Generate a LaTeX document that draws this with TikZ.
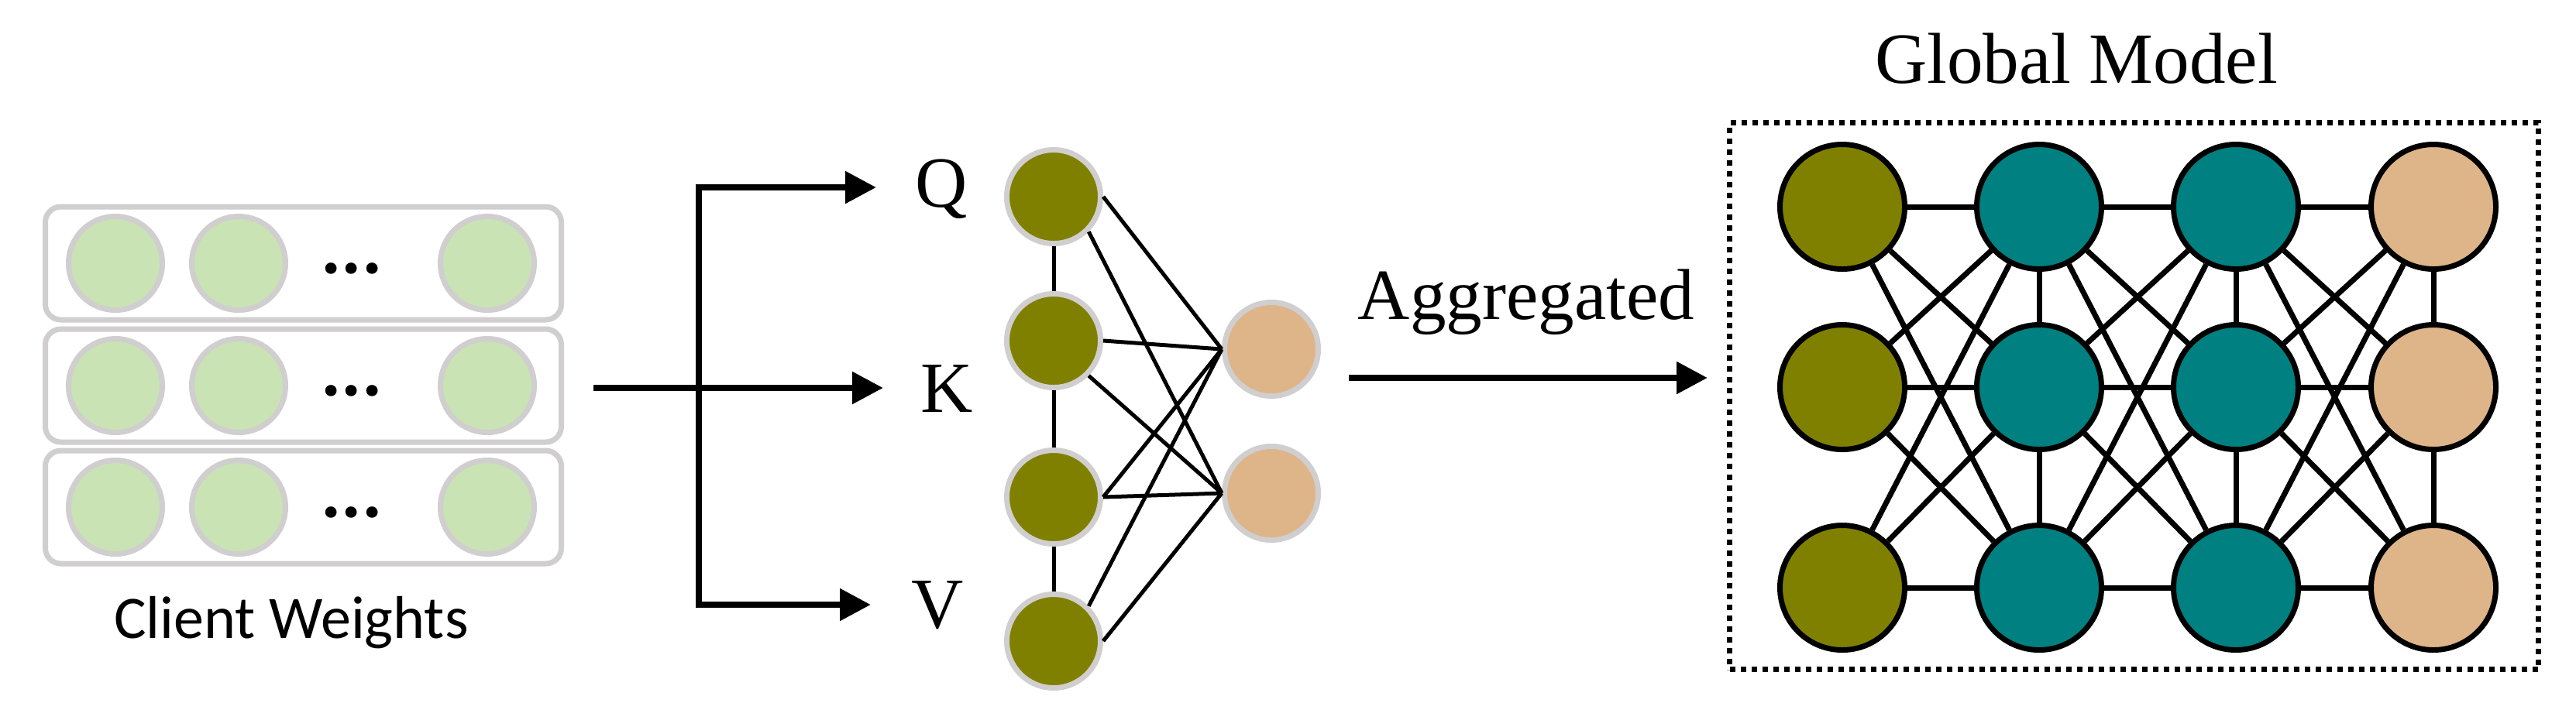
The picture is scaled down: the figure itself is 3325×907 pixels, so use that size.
\documentclass[tikz,border=0pt]{standalone}
\usepackage{fontspec}
\setmainfont{Liberation Serif}
\newfontfamily\clientfont{Carlito}
\usepackage{tikz}
\usetikzlibrary{arrows.meta}

\definecolor{weightgreen}{RGB}{201,227,181}
\definecolor{weightgray}{RGB}{208,206,206}
\definecolor{qkvolive}{RGB}{128,128,0}
\definecolor{hidteal}{RGB}{0,128,128}
\definecolor{outtan}{RGB}{222,180,137}

\begin{document}
\begin{tikzpicture}[x=0.1mm,y=-0.1mm,
  >={Triangle[length=4mm,width=4mm]},
  rowbox/.style={draw=weightgray,line width=0.7mm,rounded corners=2mm,
    minimum width=66.6mm,minimum height=14.6mm,inner sep=0pt},
  weight/.style={circle,draw=weightgray,fill=weightgreen,line width=0.7mm,
    minimum size=12.1mm,inner sep=0pt},
  qkvnode/.style={weight,fill=qkvolive},
  outnode/.style={weight,fill=outtan},
  gnode/.style={circle,draw=black,line width=0.7mm,minimum size=16.1mm,inner sep=0pt},
  flow/.style={line width=0.85mm},
  qkvline/.style={line width=0.5mm},
  netline/.style={line width=0.7mm},
  bigtext/.style={font=\fontsize{26.5}{30}\selectfont,anchor=base,inner sep=0pt},
  dotbox/.style={draw,line width=0.7mm,dash pattern=on 0.7mm off 0.7mm,
    minimum width=104.4mm,minimum height=70.6mm,inner sep=0pt}]
  \useasboundingbox (0,0) rectangle (3325,907);

  \foreach \r/\y in {1/340,2/498,3/655} {
    \node[rowbox] (row\r) at (391.5,\y) {};
    \node[weight] (w\r a) at (149,\y) {};
    \node[weight] (w\r b) at (308,\y) {};
    \node[weight] (w\r c) at (629,\y) {};
    \node[font=\clientfont\bfseries\fontsize{28}{30}\selectfont,anchor=base,inner sep=0pt]
      (dots\r) at (454,\y+13) {...};
  }
  \node[font=\clientfont\fontsize{22.2}{26}\selectfont,anchor=base,inner sep=0pt]
    (clientlbl) at (376,824) {Client Weights};

  \coordinate (split) at (766,501);
  \coordinate (fork) at (902,501);
  \coordinate (qtip) at (1131,242);
  \coordinate (ktip) at (1140,501);
  \coordinate (vtip) at (1124,781);
  \draw[flow,->] (split) -- (ktip);
  \draw[flow,->] (fork) |- (qtip);
  \draw[flow,->] (fork) |- (vtip);
  \node[bigtext] (qlbl) at (1215,267) {Q};
  \node[bigtext] (klbl) at (1222,532) {K};
  \node[bigtext] (vlbl) at (1210,811) {V};

  \node[qkvnode] (a1) at (1360,254) {};
  \node[qkvnode] (a2) at (1360,440) {};
  \node[qkvnode] (a3) at (1360,642) {};
  \node[qkvnode] (a4) at (1360,828) {};
  \node[outnode] (o1) at (1641,451) {};
  \node[outnode] (o2) at (1641,637) {};
  \draw[qkvline] (a1) -- (a2) (a2) -- (a3) (a3) -- (a4);
  \draw[qkvline] (a1.east) -- (o1.west) (a1.south east) -- (o2.west)
    (a2.east) -- (o1.west) (a2.south east) -- (o2.west)
    (a3.east) -- (o1.west) (a3.east) -- (o2.west)
    (a4.north east) -- (o1.west) (a4.east) -- (o2.west);

  \coordinate (aggfrom) at (1741,488);
  \coordinate (aggto) at (2204,488);
  \draw[flow,->] (aggfrom) -- (aggto);
  \node[bigtext] (agglbl) at (1970,412) {Aggregated};

  \node[dotbox] (global) at (2754.5,511.5) {};
  \node[bigtext] (globallbl) at (2680,107) {Global Model};
  \foreach \c/\x/\col in {1/2378/qkvolive,2/2632/hidteal,3/2886/hidteal,4/3141/outtan}
    \foreach \r/\y in {1/267,2/500,3/759}
      \node[gnode,fill=\col] (n\c\r) at (\x,\y) {};
  \foreach \c/\d in {1/2,2/3,3/4}
    \foreach \r in {1,2,3}
      \foreach \s in {1,2,3}
        \draw[netline] (n\c\r) -- (n\d\s);
  \foreach \c in {2,3,4}
    \draw[netline] (n\c1) -- (n\c2) (n\c2) -- (n\c3);
\end{tikzpicture}
\end{document}
